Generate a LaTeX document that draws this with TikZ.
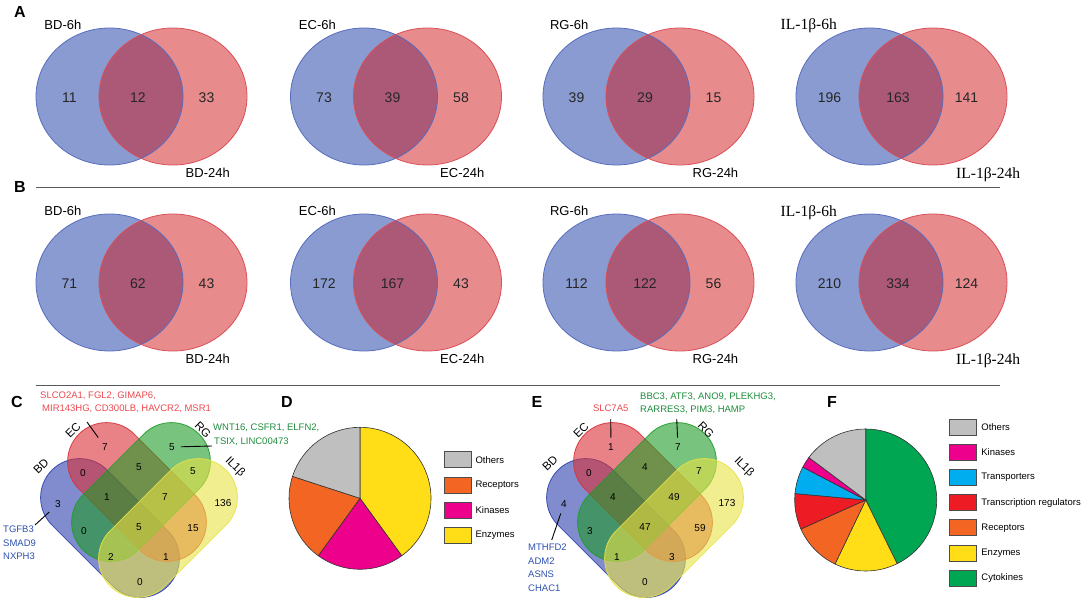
\documentclass[tikz,border=0pt]{standalone}
\usepackage{fontspec}
\setmainfont{Liberation Sans}
\newfontfamily\ilfont{Liberation Serif}
\usetikzlibrary{positioning}
% two-set Venn colours
\definecolor{sixfill}{RGB}{137,155,208}
\definecolor{sixline}{RGB}{88,108,190}
\definecolor{tffill}{RGB}{231,139,141}
\definecolor{tfline}{RGB}{218,78,88}
\definecolor{bothfill}{RGB}{171,89,118}
% four-set Venn colours
\definecolor{vbd}{RGB}{43,63,172}
\definecolor{vec}{RGB}{217,47,55}
\definecolor{vrg}{RGB}{30,155,38}
\definecolor{vil}{RGB}{232,226,70}
% gene lists
\definecolor{gred}{RGB}{236,72,78}
\definecolor{ggreen}{RGB}{30,140,60}
\definecolor{gblue}{RGB}{45,80,175}
% pie slices
\colorlet{coth}{black!25}
\definecolor{crec}{RGB}{242,101,34}
\definecolor{ckin}{RGB}{236,0,140}
\definecolor{cenz}{RGB}{255,222,23}
\definecolor{ccyt}{RGB}{0,166,81}
\definecolor{ctra}{RGB}{0,174,239}
\definecolor{ctrx}{RGB}{237,28,36}
\colorlet{rulegray}{black!65}
\tikzset{
  num/.style={font=\fontsize{14}{16}\selectfont, text=black!85},
  setname/.style={font=\fontsize{13}{15}\selectfont, inner sep=0pt},
  ilname/.style={font=\ilfont\fontsize{15.5}{17}\selectfont, inner sep=0pt},
  panel/.style={font=\bfseries\fontsize{16}{18}\selectfont, inner sep=0pt},
  qnum/.style={font=\fontsize{10}{12}\selectfont, inner sep=2pt},
  tagged/.style={outer sep=4pt},
  qset/.style={font=\fontsize{11.5}{13}\selectfont, inner sep=0pt},
  gene/.style={font=\fontsize{9.5}{13.5}\selectfont, inner sep=0pt, align=left},
  lead/.style={line width=0.9pt},
  rule/.style={rulegray, line width=0.9pt},
  slice/.style={draw=black!80, line width=0.6pt},
  legbox/.style={draw=black!70, line width=0.8pt, minimum width=27pt,
    minimum height=16pt, inner sep=0pt},
  legtxt/.style={font=\fontsize{9.5}{11}\selectfont, inner sep=0pt},
  bdset/.style={fill=vbd, fill opacity=0.6, draw=vbd, draw opacity=0.9, line width=0.8pt},
  ecset/.style={fill=vec, fill opacity=0.6, draw=vec, draw opacity=0.9, line width=0.8pt},
  rgset/.style={fill=vrg, fill opacity=0.6, draw=vrg, draw opacity=0.9, line width=0.8pt},
  ilset/.style={fill=vil, fill opacity=0.6, draw=vil, draw opacity=0.9, line width=0.8pt}
}
% #1 name, #2 #3 centre of the 6h set, #4 #5 #6 counts
\newcommand{\twovenn}[6]{%
  \fill[sixfill] (#2,#3) ellipse (73.5pt and 68.5pt);
  \fill[tffill] (#2+63.5,#3) ellipse (74pt and 68.5pt);
  \begin{scope}
    \clip (#2,#3) ellipse (73.5pt and 68.5pt);
    \fill[bothfill] (#2+63.5,#3) ellipse (74pt and 68.5pt);
  \end{scope}
  \draw[sixline, line width=0.8pt] (#2,#3) ellipse (73.5pt and 68.5pt);
  \draw[tfline, line width=0.8pt] (#2+63.5,#3) ellipse (74pt and 68.5pt);
  \node[num] (#1-six) at (#2-40,#3+1.5) {#4};
  \node[num] (#1-both) at (#2+28.5,#3+1.5) {#5};
  \node[num] (#1-tf) at (#2+97,#3+1.5) {#6};
}
% the four rounded sets of a four-set Venn
\newcommand{\fourvenn}{%
  \foreach \cx/\cy/\ang/\sty in {110/528/-45/bdset, 137/492/-45/ecset,
      141/492/45/rgset, 168/528/45/ilset}
    \path[\sty, shift={(\cx,\cy)}, rotate=\ang, rounded corners=39pt]
      (-82pt,-39pt) rectangle (82pt,39pt);
}

\begin{document}
\begin{tikzpicture}[x=1pt,y=-1pt]
  \useasboundingbox (0,0) rectangle (1084,602);
  % Panels A and B
  \node[panel] (pa) at (20,12) {A};
  \node[panel] (pb) at (20,187) {B};
  \draw[rule] (36,187.5) -- (1000,187.5);
  \draw[rule] (36,385.5) -- (1000,385.5);
  \foreach \nm/\cx/\cy/\ns/\nb/\nt in {a1/109.5/96.5/11/12/33, a2/364/96.5/73/39/58,
      a3/616.5/96.5/39/29/15, a4/869.5/96.5/196/163/141,
      b1/109.5/282.5/71/62/43, b2/364/282.5/172/167/43,
      b3/616.5/282.5/112/122/56, b4/869.5/282.5/210/334/124}
    {\twovenn{\nm}{\cx}{\cy}{\ns}{\nb}{\nt}}
  \foreach \nm/\cx/\cy/\set in {a1/109.5/96.5/BD, a2/364/96.5/EC, a3/616.5/96.5/RG,
      b1/109.5/282.5/BD, b2/364/282.5/EC, b3/616.5/282.5/RG}
    {\node[setname, anchor=base east] (\nm-sixlbl) at (\cx-28,\cy-67) {\set-6h};
     \node[setname, anchor=base west] (\nm-tflbl) at (\cx+76,\cy+81) {\set-24h};}
  \foreach \nm/\cy in {a4/96.5, b4/282.5}
    {\node[ilname, anchor=base east] (\nm-sixlbl) at (837,\cy-66.5) {IL-1β-6h};
     \node[ilname, anchor=base west] (\nm-tflbl) at (956,\cy+81.5) {IL-1β-24h};}
  % Panel C
  \node[panel] (pc) at (17,402) {C};
  \fourvenn
  \foreach \nm/\px/\py/\v in {bd/58/504/3, bdec/83/473/0, ec/105/447/7, ecrg/139/467/5,
      rg/172/447/5, rgil/193/471/5, il/223/503/136, bdecrg/107/497/1,
      ecrgil/165/497/7, all/139/527/5, bdrg/84/531/0, ecil/193/528/15,
      bdrgil/111/557/2, bdecil/166/557/1, bdil/140/582/0}
    \node[qnum, tagged] (c-\nm) at (\px,\py) {\v};
  \node[qset, rotate=45] (c-bdname) at (41,466) {BD};
  \node[qset, rotate=45] (c-ecname) at (73,430) {EC};
  \node[qset, rotate=-45] (c-rgname) at (203,430) {RG};
  \node[qset, rotate=-45] (c-ilname) at (235,467) {IL1β};
  \node[gene, gred, anchor=west] (c-ecgenes) at (40,402.5)
    {SLCO2A1, FGL2, GIMAP6,\\\hspace*{2pt}MIR143HG, CD300LB, HAVCR2, MSR1};
  \node[gene, ggreen, anchor=west] (c-rggenes) at (213,435)
    {WNT16, CSFR1, ELFN2,\\\hspace*{1pt}TSIX, LINC00473};
  \node[gene, gblue, anchor=north west] (c-bdgenes) at (3,526)
    {TGFB3\\SMAD9\\NXPH3};
  \coordinate (c-eca) at (87,422);
  \coordinate (c-rga) at (212,446);
  \coordinate (c-bda) at (35,525);
  \draw[lead] (c-eca) -- (c-ec);
  \draw[lead] (c-rga) -- (c-rg);
  \draw[lead] (c-bda) -- (c-bd);
  % Panel D
  \node[panel] (pd-lbl) at (287,402) {D};
  \coordinate (pd) at (360,498.3);
  \foreach \a/\b/\c in {-54/90/cenz, -126/-54/ckin, 162/234/crec, 90/162/coth}
    \filldraw[slice, fill=\c] (pd) -- ++(\a:71pt)
      arc[start angle=\a, end angle=\b, radius=71pt] -- cycle;
  \node[legbox, fill=coth] (d-oth) at (457.5,459.7) {};
  \node[legbox, fill=crec, below=8.5pt of d-oth] (d-rec) {};
  \node[legbox, fill=ckin, below=8.5pt of d-rec] (d-kin) {};
  \node[legbox, fill=cenz, below=8.5pt of d-kin] (d-enz) {};
  \node[legtxt, right=4pt of d-oth] (d-otht) {Others};
  \node[legtxt, right=4pt of d-rec] (d-rect) {Receptors};
  \node[legtxt, right=4pt of d-kin] (d-kint) {Kinases};
  \node[legtxt, right=4pt of d-enz] (d-enzt) {Enzymes};
  % Panel E
  \node[panel] (pe) at (537,402) {E};
  \begin{scope}[xshift=506pt]
    \fourvenn
    \foreach \nm/\px/\py/\v in {bd/58/504/4, bdec/83/473/0, ec/105/447/1, ecrg/139/467/4,
        rg/172/447/7, rgil/193/471/7, il/221/503/173, bdecrg/107/497/4,
        ecrgil/168/497/49, all/139/527/47, bdrg/84/531/3, ecil/194/528/59,
        bdrgil/111/557/1, bdecil/166/557/3, bdil/139/582/0}
      \node[qnum, tagged] (e-\nm) at (\px,\py) {\v};
    \node[qset, rotate=45] (e-bdname) at (44,463) {BD};
    \node[qset, rotate=45] (e-ecname) at (75,430) {EC};
    \node[qset, rotate=-45] (e-rgname) at (200,430) {RG};
    \node[qset, rotate=-45] (e-ilname) at (238,467) {IL1β};
  \end{scope}
  \node[gene, gred] (e-ecgenes) at (610.7,408) {SLC7A5};
  \node[gene, ggreen, anchor=west] (e-rggenes) at (640,403.5)
    {BBC3, ATF3, ANO9, PLEKHG3,\\RARRES3, PIM3, HAMP};
  \node[gene, gblue, anchor=north west] (e-bdgenes) at (528,544)
    {MTHFD2\\ADM2\\ASNS\\CHAC1};
  \coordinate (e-eca) at (610.7,419);
  \coordinate (e-rga) at (676.7,419);
  \coordinate (e-bda) at (551.7,540);
  \draw[lead] (e-eca) -- (e-ec);
  \draw[lead] (e-rga) -- (e-rg);
  \draw[lead] (e-bda) -- (e-bd);
  % Panel F
  \node[panel] (pf) at (832,402) {F};
  \coordinate (pfc) at (865.7,500);
  \foreach \a/\b/\c in {-63.7/90/ccyt, -115.6/-63.7/cenz, -155.9/-115.6/crec,
      -185.2/-155.9/ctrx, 152.4/174.8/ctra, 143.2/152.4/ckin, 90/143.2/coth}
    \filldraw[slice, fill=\c] (pfc) -- ++(\a:71pt)
      arc[start angle=\a, end angle=\b, radius=71pt] -- cycle;
  \node[legbox, fill=coth] (f-oth) at (963.3,427) {};
  \node[legbox, fill=ckin, below=8.4pt of f-oth] (f-kin) {};
  \node[legbox, fill=ctra, below=8.4pt of f-kin] (f-tra) {};
  \node[legbox, fill=ctrx, below=8.4pt of f-tra] (f-trx) {};
  \node[legbox, fill=crec, below=8.4pt of f-trx] (f-rec) {};
  \node[legbox, fill=cenz, below=8.4pt of f-rec] (f-enz) {};
  \node[legbox, fill=ccyt, below=8.4pt of f-enz] (f-cyt) {};
  \node[legtxt, right=4pt of f-oth] (f-otht) {Others};
  \node[legtxt, right=4pt of f-kin] (f-kint) {Kinases};
  \node[legtxt, right=4pt of f-tra] (f-trat) {Transporters};
  \node[legtxt, right=4pt of f-trx] (f-trxt) {Transcription regulators};
  \node[legtxt, right=4pt of f-rec] (f-rect) {Receptors};
  \node[legtxt, right=4pt of f-enz] (f-enzt) {Enzymes};
  \node[legtxt, right=4pt of f-cyt] (f-cytt) {Cytokines};
\end{tikzpicture}
\end{document}
